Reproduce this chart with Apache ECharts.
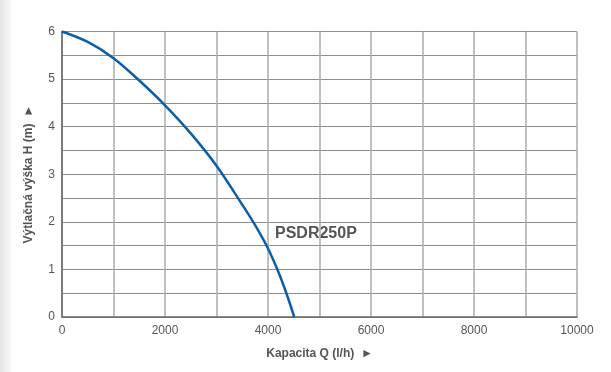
<!DOCTYPE html>
<html><head><meta charset="utf-8">
<script src="https://cdn.jsdelivr.net/npm/echarts@6/dist/echarts.min.js"></script>
<style>
html,body{margin:0;padding:0;background:#fff;}
#shade{position:absolute;left:0;top:0;width:14px;height:372px;background:linear-gradient(to right,#e6e6e6,#fff);}
#c{position:absolute;left:0;top:0;width:611px;height:372px;}
</style></head>
<body><div id="shade"></div><div id="c"></div>
<script>
var flowQ = [0, 500, 1000, 1500, 2000, 2500, 3000, 3500, 3750, 4000, 4200, 4350, 4510];
var headH = [6.00, 5.78, 5.44, 4.97, 4.45, 3.86, 3.18, 2.36, 1.93, 1.44, 0.95, 0.52, 0];
var seriesName = 'PSDR250P';
var xTitle = 'Kapacita Q (l/h)  \u25BA';
var yTitle = 'Výtlačná výška H (m)  \u25BA';

var chart = echarts.init(document.getElementById('c'), null, {renderer:'canvas'});
var txt = '#555';
var font = '"Liberation Sans", Arial, sans-serif';
chart.setOption({
  animation:false,
  backgroundColor:'transparent',
  grid:{left:62, right:34, top:31.5, bottom:55},
  xAxis:{type:'value', min:0, max:10000, interval:1000,
    axisLine:{lineStyle:{color:'#666', width:1.5}},
    axisTick:{show:false},
    axisLabel:{color:txt, fontSize:12, fontFamily:font, margin:8,
      formatter:function(v){return v%2000===0? String(v):'';}},
    splitLine:{lineStyle:{color:'#ababab', width:1.5}},
    name:xTitle, nameLocation:'middle', nameGap:31,
    nameTextStyle:{color:txt, fontWeight:'bold', fontSize:12, fontFamily:font}
  },
  yAxis:{type:'value', min:0, max:6, interval:0.5,
    axisLine:{show:true, lineStyle:{color:'#666', width:1.5}},
    axisTick:{show:false},
    axisLabel:{color:txt, fontSize:12, fontFamily:font, margin:7,
      formatter:function(v){return v%1===0? String(v):'';}},
    splitLine:{lineStyle:{color:'#8e8e8e', width:1.1}},
    name:yTitle, nameLocation:'middle', nameGap:27,
    nameTextStyle:{color:txt, fontWeight:'bold', fontSize:12, fontFamily:font}
  },
  series:[{
    name:seriesName, type:'line', smooth:0.35, showSymbol:false,
    lineStyle:{color:'#0b5ea8', width:2.5},
    data:flowQ.map(function(q,i){return [q, headH[i]];})
  }],
  graphic:[{type:'text', left:275, top:226,
    style:{text:seriesName, fill:txt, font:'bold 16px '+font}}]
});
</script></body></html>
